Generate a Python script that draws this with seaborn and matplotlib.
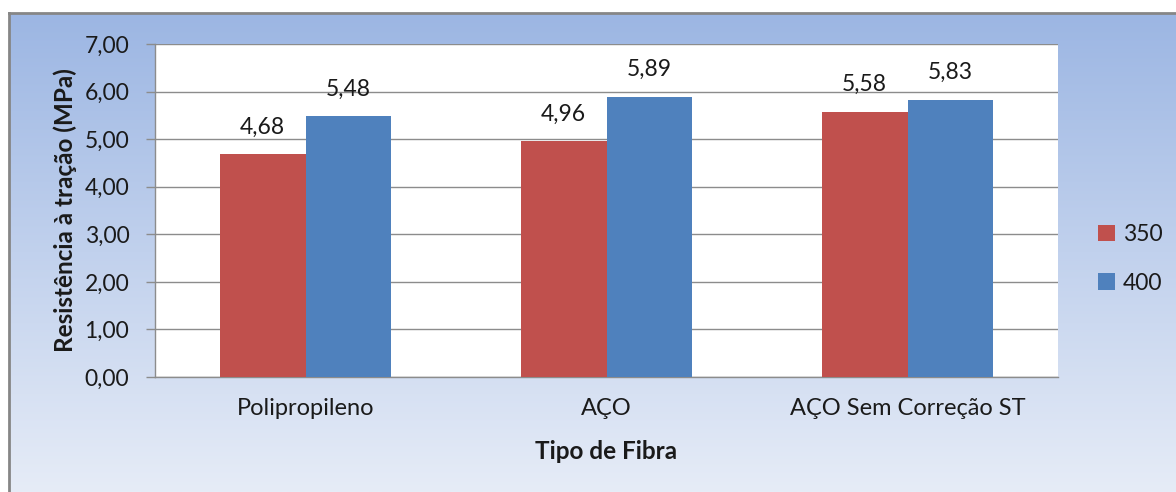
import numpy as np
import pandas as pd
import matplotlib
matplotlib.use("Agg")
import matplotlib.pyplot as plt
import seaborn as sns

categories = ["Polipropileno", "AÇO", "AÇO Sem Correção ST"]
series_350 = [4.68, 4.96, 5.58]
series_400 = [5.48, 5.89, 5.83]
series_names = ["350", "400"]
y_ticks = [0, 1, 2, 3, 4, 5, 6, 7]

df = pd.DataFrame({
    "Tipo de Fibra": categories * 2,
    "valor": series_350 + series_400,
    "serie": [series_names[0]] * 3 + [series_names[1]] * 3,
})

sns.set_theme(style="white")
plt.rcParams["font.family"] = ["Lato", "DejaVu Sans"]
TXT = "#1a1a1a"

fig = plt.figure(figsize=(11.76, 4.92), dpi=100)
W, H = 1176, 492

# gradient frame behind the chart
bg = fig.add_axes([9 / W, 0, 1 - 9 / W, 1 - 13 / H], zorder=0)
grad = np.linspace(0, 1, 256).reshape(-1, 1)
top = np.array([0x9C, 0xB6, 0xE3]) / 255
bot = np.array([0xE6, 0xEC, 0xF7]) / 255
img = top[None, None, :] * (1 - grad[:, :, None]) + bot[None, None, :] * grad[:, :, None]
bg.imshow(img, aspect="auto", extent=[0, 1, 0, 1])
bg.set_xticks([]); bg.set_yticks([])
for s in bg.spines.values():
    s.set_color("#868686")
    s.set_linewidth(2)
bg.spines["bottom"].set_visible(False)
bg.spines["right"].set_visible(False)

left, right, top_px, bottom_px = 155, 1058, 44, 377
ax = fig.add_axes([left / W, 1 - bottom_px / H, (right - left) / W, (bottom_px - top_px) / H], zorder=1)
ax.set_facecolor("white")

sns.barplot(data=df, x="Tipo de Fibra", y="valor", hue="serie",
            palette=["#C0504D", "#4F81BD"], width=0.57, saturation=1,
            ax=ax, zorder=3, edgecolor="none")

for cont in ax.containers:
    ax.bar_label(cont, labels=[f"{v:.2f}".replace(".", ",") for v in cont.datavalues],
                 padding=12, fontsize=16.5, color=TXT)

ax.set_ylim(0, 7)
ax.set_yticks(y_ticks)
ax.set_yticklabels([f"{v:.2f}".replace(".", ",") for v in y_ticks], fontsize=16.5, color=TXT)
ax.yaxis.grid(True, color="#8c8c8c", linewidth=1, zorder=0)
ax.set_axisbelow(True)
ax.tick_params(axis="y", direction="out", length=6.5, width=1, color="#8c8c8c", left=True, pad=12)
ax.tick_params(axis="x", length=0, labelsize=17, pad=15, labelcolor=TXT)
for side in ["top", "right"]:
    ax.spines[side].set_visible(False)
for side in ["left", "bottom"]:
    ax.spines[side].set_color("#8c8c8c")
    ax.spines[side].set_linewidth(1)

ax.set_xlabel("Tipo de Fibra", fontsize=17.5, fontweight="bold", labelpad=15, color=TXT)
ax.set_ylabel("Resistência à tração (MPa)", fontsize=17.5, fontweight="bold", labelpad=5, color=TXT)

leg = ax.legend(loc="center left", bbox_to_anchor=(1.022, 0.355), frameon=False,
                fontsize=16.5, handlelength=0.7, handleheight=0.7, labelspacing=1.2,
                handletextpad=0.35)
for t in leg.get_texts():
    t.set_color(TXT)

fig.savefig("out.png", dpi=100, facecolor="white")
